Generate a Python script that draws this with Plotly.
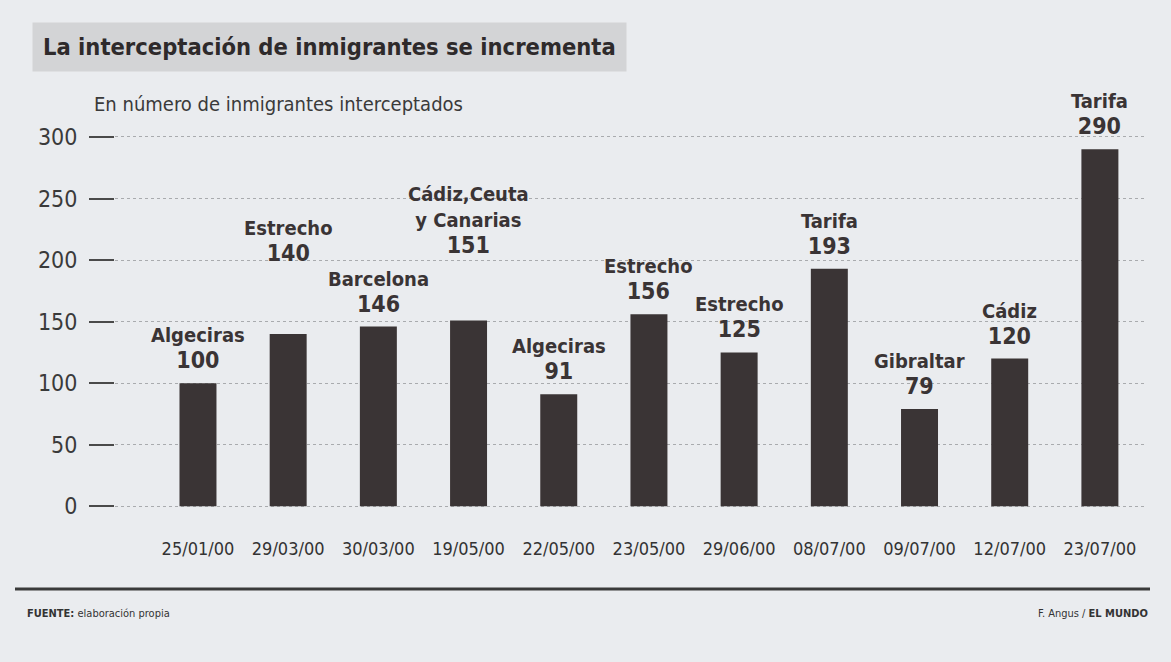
import plotly.graph_objects as go

# ---- data ----
dates = ["25/01/00", "29/03/00", "30/03/00", "19/05/00", "22/05/00", "23/05/00",
         "29/06/00", "08/07/00", "09/07/00", "12/07/00", "23/07/00"]
places = ["Algeciras", "Estrecho", "Barcelona", "Cádiz,Ceuta<br>y Canarias", "Algeciras",
          "Estrecho", "Estrecho", "Tarifa", "Gibraltar", "Cádiz", "Tarifa"]
values = [100, 140, 146, 151, 91, 156, 125, 193, 79, 120, 290]
y_ticks = [0, 50, 100, 150, 200, 250, 300]

# ---- styling / layout (not data) ----
label_raise = [0, 58, 0, 52, 0, 0, 0, 0, 0, 0, 0]
FONT = "DejaVu Sans Condensed, Liberation Sans Narrow, sans-serif"
INK = "#3a3435"
BG = "#eaecef"

W, H = 1171, 662
L, R, T, B = 115, 26, 100, 152
PW, PH = W - L - R, H - T - B


def px_x(px):
    return (px - L) / PW


def px_y(py):
    return (H - B - py) / PH


xs = list(range(len(values)))

fig = go.Figure(go.Bar(
    x=xs, y=values, width=0.41,
    marker=dict(color=INK, line=dict(width=0)),
    hoverinfo="skip",
))

annotations = []
for i, (p, v) in enumerate(zip(places, values)):
    annotations.append(dict(
        x=i, y=v, xref="x", yref="y", xanchor="center", yanchor="bottom",
        yshift=8 + label_raise[i], showarrow=False, align="center",
        text=f"<b>{p}</b><br><span style='font-size:23px'><b>{v}</b></span>",
        font=dict(family=FONT, size=20, color=INK),
    ))

# title with grey band
annotations.append(dict(
    x=px_x(32), y=px_y(22), xref="paper", yref="paper", xanchor="left", yanchor="top",
    showarrow=False, text="<b>La interceptación de inmigrantes se incrementa</b>",
    font=dict(family=FONT, size=23.5, color="#2e2a2b"),
    bgcolor="#d3d4d6", borderpad=10,
))
annotations.append(dict(
    x=px_x(92), y=px_y(90), xref="paper", yref="paper", xanchor="left", yanchor="top",
    showarrow=False, text="En número de inmigrantes interceptados",
    font=dict(family=FONT, size=20, color="#3a3a3a"),
))
annotations.append(dict(
    x=px_x(25), y=px_y(605), xref="paper", yref="paper", xanchor="left", yanchor="top",
    showarrow=False, text="<b>FUENTE:</b> elaboración propia",
    font=dict(family=FONT, size=11, color="#333"),
))
annotations.append(dict(
    x=px_x(1150), y=px_y(605), xref="paper", yref="paper", xanchor="right", yanchor="top",
    showarrow=False, text="F. Angus / <b>EL MUNDO</b>",
    font=dict(family=FONT, size=11, color="#333"),
))

shapes = [dict(
    type="line", xref="paper", yref="paper",
    x0=px_x(15), x1=px_x(1150), y0=px_y(589), y1=px_y(589),
    line=dict(color="#3a3a3a", width=3),
)]

fig.update_layout(
    width=W, height=H,
    margin=dict(l=L, r=R, t=T, b=B, autoexpand=False),
    paper_bgcolor=BG, plot_bgcolor=BG,
    showlegend=False,
    annotations=annotations, shapes=shapes,
    font=dict(family=FONT, color="#3a3a3a"),
    xaxis=dict(
        range=[-0.92, 10.5], tickmode="array", tickvals=xs, ticktext=dates,
        showgrid=False, zeroline=False, showline=False, ticks="",
        tickangle=0,
        tickfont=dict(family=FONT, size=18, color="#333"),
        ticklabelstandoff=26, fixedrange=True,
    ),
    yaxis=dict(
        range=[-3, 330], tickmode="array", tickvals=y_ticks,
        showgrid=True, gridcolor="#a9abae", griddash="dot", gridwidth=1,
        zeroline=False, showline=False,
        ticks="outside", ticklen=25, tickwidth=2, tickcolor="#4a4a4a",
        tickfont=dict(family=FONT, size=23, color="#3a3a3a"),
        ticklabelstandoff=7, fixedrange=True,
    ),
)

fig.write_html("out.html", config={"displayModeBar": False},
               post_script="document.body.style.margin='0';document.body.style.overflow='hidden';")
